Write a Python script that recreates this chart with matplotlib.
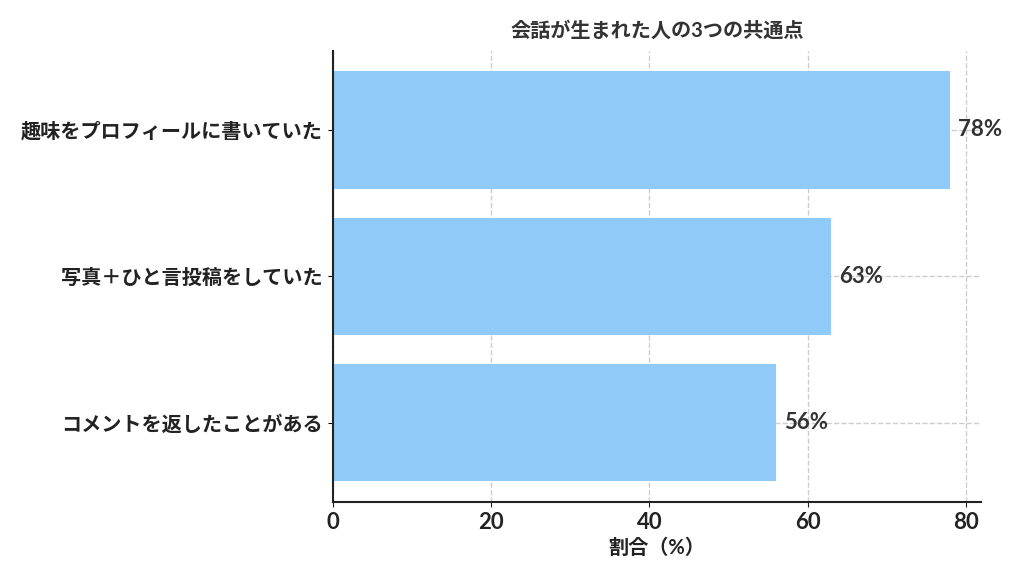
import matplotlib
matplotlib.use('Agg')
import matplotlib.pyplot as plt

plt.rcParams['font.family'] = ['Lato', 'Noto Sans CJK JP', 'DejaVu Sans']

# データ
categories = ['趣味をプロフィールに書いていた', '写真＋ひと言投稿をしていた', 'コメントを返したことがある']
values = [78, 63, 56]
title = '会話が生まれた人の3つの共通点'
xlabel = '割合（%）'

fig = plt.figure(figsize=(10.24, 5.85), dpi=100)
ax = fig.add_axes([0.325, 0.142, 0.633, 0.771])

ypos = list(range(len(categories)))[::-1]
ax.barh(ypos, values, height=0.8, color='#90CAF9', zorder=2)

for y, v in zip(ypos, values):
    ax.text(v + 1, y, f'{v}%', va='center', ha='left', fontsize=16,
            fontweight='bold', color='#333333', zorder=3)

ax.set_yticks(ypos)
ax.set_yticklabels(categories, fontsize=14.5, fontweight='bold', color='#222222')
ax.set_xticks([0, 20, 40, 60, 80])
ax.tick_params(axis='x', labelsize=16, colors='#222222')
for lab in ax.get_xticklabels():
    lab.set_fontweight('bold')

ax.set_xlabel(xlabel, fontsize=14.5, fontweight='bold', color='#222222', labelpad=4)
ax.set_title(title, fontsize=14.5, fontweight='bold', color='#333333', pad=10)

ax.grid(True, linestyle='--', color='#cccccc', linewidth=1, zorder=0)
ax.set_axisbelow(True)
ax.spines['top'].set_visible(False)
ax.spines['right'].set_visible(False)
ax.spines['left'].set_linewidth(1.5)
ax.spines['bottom'].set_linewidth(1.5)
ax.spines['left'].set_color('#222222')
ax.spines['bottom'].set_color('#222222')

fig.savefig('out.png', dpi=100)
